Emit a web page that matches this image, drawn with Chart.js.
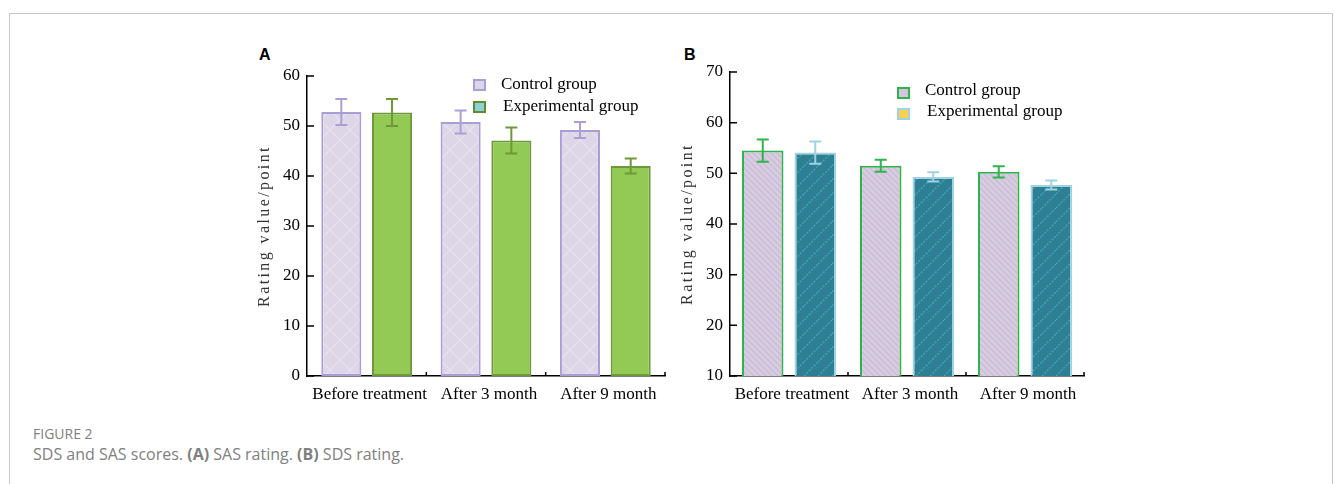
<!DOCTYPE html>
<html>
<head>
<meta charset="utf-8">
<script src="https://cdn.jsdelivr.net/npm/chart.js@4.4.1/dist/chart.umd.min.js"></script>
<style>
  body { margin: 0; background: #fff; }
  #page { position: relative; width: 1335px; height: 484px; overflow: hidden; background: #fff; }
  #frame { position: absolute; left: 9px; top: 13px; width: 1322px; height: 500px;
           border: 1px solid #c8c8c8; border-bottom: none; }
  .panel { position: absolute; font: bold 16px "Liberation Sans", Arial, sans-serif; color: #000; }
  canvas { position: absolute; }
  #figno { position: absolute; left: 33px; top: 424px; font: 14px "Open Sans", sans-serif; color: #808080; }
  #caption { position: absolute; left: 33px; top: 443px; font: 16px "Open Sans", sans-serif; color: #808080; }
</style>
</head>
<body>
<div id="page">
  <div id="frame"></div>
  <div class="panel" style="left:259px; top:46px;">A</div>
  <div class="panel" style="left:684px; top:46px;">B</div>
  <canvas id="chartA" width="440" height="380" style="left:240px; top:40px;"></canvas>
  <canvas id="chartB" width="440" height="380" style="left:664px; top:40px;"></canvas>
  <div id="figno">FIGURE 2</div>
  <div id="caption">SDS and SAS scores. <b>(A)</b> SAS rating. <b>(B)</b> SDS rating.</div>
</div>
<script>
"use strict";

// data
var categories = ["Before treatment", "After 3 month", "After 9 month"];
var seriesNames = ["Control group", "Experimental group"];

// (A) SAS rating
var sasControl = [52.8, 50.8, 49.2];
var sasControlErr = [2.6, 2.3, 1.6];
var sasExperimental = [52.7, 47.1, 42.0];
var sasExperimentalErr = [2.7, 2.6, 1.5];
var sasTicks = [0, 10, 20, 30, 40, 50, 60];

// (B) SDS rating
var sdsControl = [54.5, 51.5, 50.3];
var sdsControlErr = [2.2, 1.2, 1.1];
var sdsExperimental = [54.1, 49.3, 47.7];
var sdsExperimentalErr = [2.2, 0.9, 0.9];
var sdsTicks = [10, 20, 30, 40, 50, 60, 70];

var serif = "'Liberation Serif', 'Times New Roman', serif";

function makePattern(size, painter) {
    var c = document.createElement("canvas");
    c.width = size;
    c.height = size;
    painter(c.getContext("2d"), size);
    return c.getContext("2d").createPattern(c, "repeat");
}

var latticeLavender = makePattern(20, function (g, s) {
    g.fillStyle = "#ddd6e7";
    g.fillRect(0, 0, s, s);
    g.strokeStyle = "rgba(255,255,255,0.32)";
    g.lineWidth = 1.2;
    g.beginPath();
    g.moveTo(0, 0); g.lineTo(s, s);
    g.moveTo(s, 0); g.lineTo(0, s);
    g.stroke();
});

var stripeLavender = makePattern(6, function (g, s) {
    g.fillStyle = "#d8cce0";
    g.fillRect(0, 0, s, s);
    g.strokeStyle = "#cbbcd5";
    g.lineWidth = 1.5;
    g.beginPath();
    g.moveTo(-1, -1); g.lineTo(s + 1, s + 1);
    g.moveTo(-1, s - 1); g.lineTo(1, s + 1);
    g.moveTo(s - 1, -1); g.lineTo(s + 1, 1);
    g.stroke();
});

var stripeTeal = makePattern(14, function (g, s) {
    g.fillStyle = "#2f7f94";
    g.fillRect(0, 0, s, s);
    g.strokeStyle = "#3ea3bc";
    g.lineWidth = 1.5;
    g.setLineDash([2, 1.5]);
    g.beginPath();
    g.moveTo(0, s); g.lineTo(s, 0);
    g.stroke();
});

// error bars drawn from each bar element and the y scale
var errorBars = {
    id: "errorBars",
    afterDatasetsDraw: function (chart) {
        var ctx = chart.ctx;
        var y = chart.scales.y;
        chart.data.datasets.forEach(function (ds, i) {
            var meta = chart.getDatasetMeta(i);
            meta.data.forEach(function (bar, j) {
                var top = y.getPixelForValue(ds.data[j] + ds.errors[j]);
                var bottom = y.getPixelForValue(ds.data[j] - ds.errors[j]);
                ctx.save();
                ctx.strokeStyle = ds.borderColor;
                ctx.lineWidth = 2;
                ctx.beginPath();
                ctx.moveTo(bar.x, top); ctx.lineTo(bar.x, bottom);
                ctx.moveTo(bar.x - 6, top); ctx.lineTo(bar.x + 6, top);
                ctx.moveTo(bar.x - 6, bottom); ctx.lineTo(bar.x + 6, bottom);
                ctx.stroke();
                ctx.restore();
            });
        });
    }
};

// short inward ticks on both axes
var innerTicks = {
    id: "innerTicks",
    afterDraw: function (chart) {
        var ctx = chart.ctx;
        var x = chart.scales.x, y = chart.scales.y;
        var area = chart.chartArea;
        ctx.save();
        ctx.strokeStyle = "#000";
        ctx.lineWidth = 1.5;
        ctx.beginPath();
        y.ticks.forEach(function (t, i) {
            var py = y.getPixelForTick(i);
            ctx.moveTo(area.left, py); ctx.lineTo(area.left + 7, py);
        });
        for (var i = 0; i < categories.length; i++) {
            var px = i < categories.length - 1
                ? (x.getPixelForValue(i) + x.getPixelForValue(i + 1)) / 2
                : area.right;
            ctx.moveTo(px, area.bottom); ctx.lineTo(px, area.bottom - 4);
        }
        ctx.stroke();
        ctx.restore();
    }
};

// letter-spaced axis title, reset before bars and tick labels
var spacedTitle = {
    id: "spacedTitle",
    beforeDraw: function (chart) { chart.ctx.letterSpacing = "2.4px"; },
    beforeDatasetsDraw: function (chart) { chart.ctx.letterSpacing = "0px"; }
};

var legendBox = {
    id: "legendBox",
    afterDraw: function (chart, args, opts) {
        var ctx = chart.ctx;
        var area = chart.chartArea;
        ctx.save();
        opts.items.forEach(function (item, i) {
            var bx = area.left + opts.dx;
            var by = area.top + opts.dy + i * opts.gap;
            ctx.fillStyle = item.fill;
            ctx.fillRect(bx, by, 13, 12);
            ctx.strokeStyle = item.stroke;
            ctx.lineWidth = 2;
            ctx.strokeRect(bx + 1, by + 1, 11, 10);
            ctx.fillStyle = "#000";
            ctx.font = "17px " + serif;
            ctx.textBaseline = "middle";
            ctx.fillText(seriesNames[i], bx + 28 + i * 2, by + 6 + opts.textShift);
        });
        ctx.restore();
    }
};

function buildChart(canvasId, cfg) {
    return new Chart(document.getElementById(canvasId), {
        type: "bar",
        data: {
            labels: categories,
            datasets: cfg.datasets
        },
        plugins: [spacedTitle, errorBars, innerTicks, legendBox],
        options: {
            responsive: false,
            animation: false,
            layout: { padding: cfg.padding },
            datasets: {
                bar: {
                    categoryPercentage: cfg.catPct,
                    barPercentage: cfg.barPct,
                    borderWidth: 2,
                    borderSkipped: false
                }
            },
            plugins: {
                legend: { display: false },
                tooltip: { enabled: false },
                legendBox: cfg.legend
            },
            scales: {
                x: {
                    grid: { display: false, drawTicks: false },
                    border: { display: true, color: "#000", width: 1.5 },
                    ticks: { color: "#000", font: { family: serif, size: 17 }, padding: 8,
                             labelOffset: 3, z: 1, maxRotation: 0, autoSkip: false },
                    afterFit: function (scale) { scale.height = 40; }
                },
                y: {
                    min: cfg.ticks[0],
                    max: cfg.ticks[cfg.ticks.length - 1],
                    afterBuildTicks: function (scale) {
                        scale.ticks = cfg.ticks.map(function (v) { return { value: v }; });
                    },
                    grid: { display: false, drawTicks: false },
                    border: { display: true, color: "#000", width: 1.5 },
                    ticks: { color: "#000", font: { family: serif, size: 17 }, padding: 7, z: 1 },
                    title: {
                        display: true,
                        text: "Rating value/point",
                        color: "#333",
                        font: { family: serif, size: 16 },
                        padding: { top: 4, bottom: 0 }
                    },
                    afterFit: function (scale) { scale.width = 56; }
                }
            }
        }
    });
}

buildChart("chartA", {
    ticks: sasTicks,
    padding: { left: 11, right: 15, top: 36, bottom: 4 },
    catPct: 0.85,
    barPct: 0.79,
    datasets: [
        { label: seriesNames[0], data: sasControl, errors: sasControlErr,
          backgroundColor: latticeLavender, borderColor: "#a99fd7" },
        { label: seriesNames[1], data: sasExperimental, errors: sasExperimentalErr,
          backgroundColor: "#93c955", borderColor: "#6f983b" }
    ],
    legend: {
        dx: 166, dy: 3, gap: 22, textShift: 0,
        items: [
            { fill: "#ddd6e7", stroke: "#a99fd7" },
            { fill: "#8fd0d8", stroke: "#5d8f2e" }
        ]
    }
});

buildChart("chartB", {
    ticks: sdsTicks,
    padding: { left: 10, right: 20, top: 32, bottom: 4 },
    catPct: 0.89,
    barPct: 0.79,
    datasets: [
        { label: seriesNames[0], data: sdsControl, errors: sdsControlErr,
          backgroundColor: stripeLavender, borderColor: "#2fb34d" },
        { label: seriesNames[1], data: sdsExperimental, errors: sdsExperimentalErr,
          backgroundColor: stripeTeal, borderColor: "#9fd3e2" }
    ],
    legend: {
        dx: 167, dy: 15, gap: 21, textShift: -2,
        items: [
            { fill: "#d3c6dc", stroke: "#2fb34d" },
            { fill: "#fdd04e", stroke: "#9fd3e2" }
        ]
    }
});
</script>
</body>
</html>
